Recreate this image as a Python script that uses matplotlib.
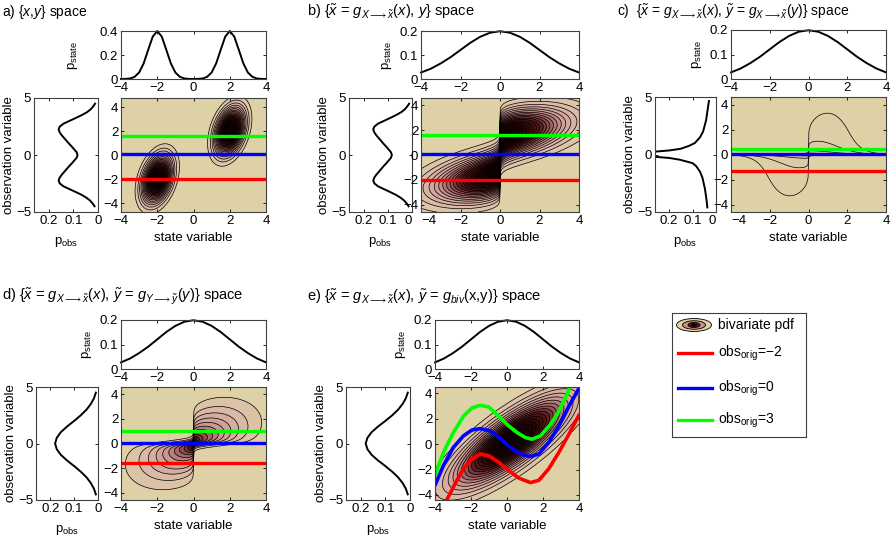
import numpy as np
import matplotlib
matplotlib.use('Agg')
import matplotlib.pyplot as plt
from matplotlib.colors import LinearSegmentedColormap
from matplotlib.patches import Ellipse
from math import erf

plt.rcParams['font.family'] = ['Liberation Sans', 'DejaVu Sans']
plt.rcParams['mathtext.fontset'] = 'custom'
plt.rcParams['mathtext.rm'] = 'Liberation Sans'
plt.rcParams['mathtext.it'] = 'Liberation Sans:italic'
plt.rcParams['mathtext.bf'] = 'Liberation Sans:bold'
plt.rcParams['font.size'] = 9.5

# ---- marginal of the state variable ----
# panel a: two bumps, read at -4..4 every 0.25
p_state_a = [0.000, 0.001, 0.004, 0.018, 0.054, 0.130, 0.243, 0.353, 0.400,
             0.353, 0.243, 0.130, 0.054, 0.018, 0.004, 0.001, 0.000,
             0.001, 0.004, 0.018, 0.054, 0.130, 0.243, 0.353, 0.400,
             0.353, 0.243, 0.130, 0.054, 0.018, 0.004, 0.001, 0.000]
# panels b-e: gaussianised state, read at -4..4 every 0.5
p_state_g = [0.027, 0.043, 0.065, 0.091, 0.121, 0.151, 0.176, 0.193, 0.199,
             0.193, 0.176, 0.151, 0.121, 0.091, 0.065, 0.043, 0.027]

# ---- marginal of the observation variable ----
# panels a and b, read at -4.5..4.5 every 0.25
p_obs_a = [0.014, 0.022, 0.032, 0.047, 0.066, 0.090, 0.115, 0.140, 0.155, 0.160,
           0.156, 0.148, 0.138, 0.128, 0.118, 0.107, 0.097, 0.087, 0.083,
           0.087, 0.097, 0.107, 0.118, 0.128, 0.138, 0.148, 0.156, 0.160,
           0.155, 0.140, 0.115, 0.090, 0.066, 0.045, 0.030, 0.020, 0.012]
# panel c (spike at 0, runs off the axes)
y_obs_c = [-4.6, -4.0, -3.0, -2.0, -1.5, -1.0, -0.75, -0.45, -0.3, -0.2, -0.12, 0.0,
           0.1, 0.18, 0.25, 0.35, 0.5, 0.75, 1.0, 1.5, 2.0, 3.0, 4.0, 4.65]
p_obs_c = [0.037, 0.040, 0.047, 0.058, 0.068, 0.085, 0.100, 0.155, 0.200, 0.260, 0.800, 2.0,
           0.800, 0.400, 0.260, 0.200, 0.150, 0.115, 0.090, 0.068, 0.055, 0.042, 0.035, 0.030]
# panels d and e, read at -4.5..4.5 every 0.5
p_obs_d = [0.009, 0.017, 0.030, 0.048, 0.072, 0.100, 0.130, 0.156, 0.173, 0.180,
           0.173, 0.156, 0.130, 0.100, 0.072, 0.048, 0.030, 0.017, 0.009]

# ---- observation values drawn as lines (lower, middle, upper) ----
obs_a = [-2.0, 0.05, 1.6]
obs_b = [-2.0, 0.05, 1.6]
obs_c = [-1.3, 0.08, 0.42]
obs_d = [-1.55, 0.08, 1.05]
# panel e: the same observations become curves
red_x = [-3.35, -2.88, -2.42, -1.95, -1.49, -1.02, -0.47, 0.09, 0.65, 1.30, 1.77, 2.32, 2.88, 3.44, 4.0]
red_y = [-4.4, -3.11, -1.94, -1.17, -0.78, -0.91, -1.42, -2.07, -2.67, -3.03, -2.85, -1.94, -0.65, 0.78, 2.3]
blue_x = [-4.0, -3.53, -2.98, -2.42, -1.95, -1.49, -0.93, -0.37, 0.19, 0.74, 1.30, 1.77, 2.32, 2.88, 3.44, 4.0]
blue_y = [-3.24, -1.68, -0.26, 0.65, 1.11, 1.22, 1.04, 0.44, -0.26, -0.78, -0.98, -0.78, 0.13, 1.42, 2.98, 4.4]
green_x = [-4.0, -3.53, -2.98, -2.42, -1.95, -1.49, -1.02, -0.56, 0.0, 0.56, 1.02, 1.39, 1.86, 2.42, 2.88, 3.35, 3.5]
green_y = [-2.46, -0.65, 0.91, 2.2, 2.85, 3.06, 2.93, 2.33, 1.55, 0.91, 0.52, 0.39, 0.65, 1.55, 2.59, 4.0, 4.5]

# ---- bivariate pdf: two correlated gaussian clusters in {x, y} ----
mix_w = [0.5, 0.5]
mix_mx = [-2.0, 2.0]
mix_my = [-2.0, 2.0]
mix_sx = 0.5
mix_sy = 1.2
mix_rho = 0.35
target_sd = 2.0
# panel e: bivariate gaussian after the joint transform
biv_mean = [0.2, 0.2]
biv_sd = [2.0, 2.2]
biv_rho = 0.8

legend_labels = ['bivariate pdf', 'obs$_{\\rm orig}$=\u22122', 'obs$_{\\rm orig}$=0', 'obs$_{\\rm orig}$=3']

tan = (0.871, 0.820, 0.651)
cm = LinearSegmentedColormap.from_list('pdf', [
    (0.0, tan), (0.12, (0.86, 0.74, 0.66)), (0.3, (0.80, 0.60, 0.58)),
    (0.45, (0.60, 0.35, 0.35)), (0.6, (0.35, 0.10, 0.10)), (0.8, (0.15, 0.02, 0.02)),
    (1.0, (0.05, 0.0, 0.0))])
cm.set_over((0.05, 0.0, 0.0))


def Phi(z):
    return 0.5 * (1 + np.vectorize(erf)(np.asarray(z, float) / np.sqrt(2)))


def npdf(z, m, s):
    return np.exp(-0.5 * ((z - m) / s) ** 2) / (s * np.sqrt(2 * np.pi))


def joint(x, y):
    out = 0
    for w, mx, my in zip(mix_w, mix_mx, mix_my):
        u = (x - mx) / mix_sx
        v = (y - my) / mix_sy
        q = (u * u - 2 * mix_rho * u * v + v * v) / (1 - mix_rho ** 2)
        out = out + w * np.exp(-0.5 * q) / (2 * np.pi * mix_sx * mix_sy * np.sqrt(1 - mix_rho ** 2))
    return out


def marg(z, means, s):
    return sum(w * npdf(z, m, s) for w, m in zip(mix_w, means))


tab = np.linspace(-8, 8, 8001)
Fx_tab = sum(w * Phi((tab - m) / mix_sx) for w, m in zip(mix_w, mix_mx))
Fy_tab = sum(w * Phi((tab - m) / mix_sy) for w, m in zip(mix_w, mix_my))


def back(t, F_tab):
    # original value that the gaussianising map sends to t
    return np.interp(Phi(t / target_sd), F_tab, tab)


W, H = 891, 542
fig = plt.figure(figsize=(W / 100, H / 100), dpi=100)


def box(l, t, r, b):
    return [l / W, 1 - b / H, (r - l) / W, (b - t) / H]


def style(ax):
    ax.tick_params(direction='in', length=2.5, width=0.6, pad=2, top=True, right=True, labelsize=9.5)
    for s in ax.spines.values():
        s.set_linewidth(0.8)
        s.set_color('0.25')


def panel(title, tpos, top_box, main_box, left_box, st_p, st_top, ob_y, ob_p, field, ylim, levels, vmax):
    fig.text(tpos[0] / W, 1 - tpos[1] / H, title, ha='left', va='center', fontsize=tpos[2])

    at = fig.add_axes(box(*top_box))
    at.plot(np.linspace(-4, 4, len(st_p)), st_p, 'k', lw=1.4, clip_on=False)
    at.set_xlim(-4, 4)
    at.set_ylim(0, st_top)
    at.set_xticks([-4, -2, 0, 2, 4])
    at.set_yticks([0, st_top / 2, st_top])
    at.set_yticklabels(['0', f'{st_top / 2:g}', f'{st_top:g}'])
    at.set_ylabel(r'p$_{\rm state}$', labelpad=tpos[3])
    style(at)

    al = fig.add_axes(box(*left_box))
    al.plot(ob_p, ob_y, 'k', lw=1.4)
    al.set_xlim(0.26, 0)
    al.set_ylim(-5, 5)
    al.set_xticks([0.2, 0.1, 0])
    al.set_xticklabels(['0.2', '0.1', '0'])
    al.set_yticks([-5, 0, 5])
    al.set_xlabel(r'p$_{\rm obs}$', labelpad=6)
    al.set_ylabel('observation variable', labelpad=1)
    style(al)

    am = fig.add_axes(box(*main_box))
    am.set_facecolor(tan)
    xg, yg, Z = field
    am.contourf(xg, yg, Z, levels=levels, cmap=cm, vmin=0, vmax=vmax, extend='max')
    am.contour(xg, yg, Z, levels=levels, colors='k', linewidths=0.5)
    am.set_xlim(-4, 4)
    am.set_ylim(*ylim)
    am.set_xticks([-4, -2, 0, 2, 4])
    am.set_yticks([-4, -2, 0, 2, 4])
    am.set_xlabel('state variable', labelpad=4)
    style(am)
    return am, al


def lin_levels(top, n):
    return np.linspace(0, top, n + 1)[1:]


n = 401
xg = np.linspace(-4, 4, n)
x_back = back(xg, Fx_tab)
gx = npdf(xg, 0, target_sd)

# a) {x, y}
ya = np.linspace(-4.75, 4.75, n)
Za = joint(xg[None, :], ya[:, None])
# b) {x~, y}
yb = np.linspace(-4.6, 4.6, n)
Zb = joint(x_back[None, :], yb[:, None]) / marg(x_back, mix_mx, mix_sx)[None, :] * gx[None, :]
# c) {x~, y~ = g_X(y)}
yc = np.linspace(-4.6, 4.6, n)
yc_back = back(yc, Fx_tab)
Zc = (joint(x_back[None, :], yc_back[:, None])
      / (marg(x_back, mix_mx, mix_sx)[None, :] * marg(yc_back, mix_mx, mix_sx)[:, None])
      * gx[None, :] * npdf(yc, 0, target_sd)[:, None])
# d) {x~, y~ = g_Y(y)}
yd = np.linspace(-4.6, 4.6, n)
yd_back = back(yd, Fy_tab)
Zd = (joint(x_back[None, :], yd_back[:, None])
      / (marg(x_back, mix_mx, mix_sx)[None, :] * marg(yd_back, mix_my, mix_sy)[:, None])
      * gx[None, :] * npdf(yd, 0, target_sd)[:, None])
# e) {x~, y~ = g_biv(x, y)}
ye = np.linspace(-4.6, 4.6, n)
u = (xg[None, :] - biv_mean[0]) / biv_sd[0]
v = (ye[:, None] - biv_mean[1]) / biv_sd[1]
Ze = np.exp(-0.5 * (u * u - 2 * biv_rho * u * v + v * v) / (1 - biv_rho ** 2))

y_a = np.linspace(-4.5, 4.5, len(p_obs_a))
y_d = np.linspace(-4.5, 4.5, len(p_obs_d))
levels_c = np.array([0.0145, 0.03, 0.07, 0.15, 0.4, 1.0, 3.0])
top_d = 1.1 * Zd[n // 2, n // 2]

sub = r'_{X\longrightarrow\tilde{x}}'
t_a = r'a) {$x$,$y$} space'
t_b = r'b) {$\tilde{x}$ = $g' + sub + r'$($x$), $y$} space'
t_c = r'c)  {$\tilde{x}$ = $g' + sub + r'$($x$), $\tilde{y}$ = $g' + sub + r'$($y$)} space'
t_d = r'd) {$\tilde{x}$ = $g' + sub + r'$($x$), $\tilde{y}$ = $g_{Y\longrightarrow\tilde{y}}$($y$)} space'
t_e = r'e) {$\tilde{x}$ = $g' + sub + r'$($x$), $\tilde{y}$ = $g_{biv}$(x,y)} space'

am_a, al_a = panel(t_a, (2, 12, 10, 14), (121, 31, 266, 79), (121, 98, 266, 212), (34, 98, 98, 212),
                   p_state_a, 0.4, y_a, p_obs_a, (xg, ya, Za), (-4.75, 4.75), lin_levels(Za.max(), 20), Za.max())
am_b, al_b = panel(t_b, (307, 12, 10.5, 4), (421, 31, 579, 79), (421, 98, 579, 212), (349, 98, 412, 212),
                   p_state_g, 0.2, y_a, p_obs_a, (xg, yb, Zb), (-4.6, 4.6), lin_levels(Zb.max(), 20), Zb.max())
am_c, al_c = panel(t_c, (617, 12, 10, 4), (731, 30, 886, 79), (731, 97, 886, 212), (655, 97, 716, 212),
                   p_state_g, 0.2, y_obs_c, p_obs_c, (xg, yc, Zc), (-4.6, 4.6), levels_c, 1.2)
am_d, al_d = panel(t_d, (2, 297, 10.5, 4), (121, 320, 266, 369), (121, 387, 266, 500), (36, 387, 98, 500),
                   p_state_g, 0.2, y_d, p_obs_d, (xg, yd, Zd), (-4.6, 4.6), lin_levels(top_d, 18), top_d)
am_e, al_e = panel(t_e, (307, 297, 10.5, 4), (435, 320, 579, 369), (435, 387, 579, 500), (346, 387, 410, 500),
                   p_state_g, 0.2, y_d, p_obs_d, (xg, ye, Ze), (-4.4, 4.5), lin_levels(Ze.max(), 18), Ze.max())

# in b) and c) the crowded corner labels sit apart, as in the original
for am, al in [(am_b, al_b), (am_c, al_c)]:
    am.get_xticklabels()[0].set_ha('left')
    al.get_xticklabels()[-1].set_ha('right')

line_cols = ['#ff0000', '#0000ff', '#00ff00']
for am, obs in [(am_a, obs_a), (am_b, obs_b), (am_c, obs_c), (am_d, obs_d)]:
    for val, c in zip(obs, line_cols):
        am.axhline(val, color=c, lw=2.4)
for cx, cy, c in [(red_x, red_y, line_cols[0]), (blue_x, blue_y, line_cols[1]), (green_x, green_y, line_cols[2])]:
    am_e.plot(cx, cy, color=c, lw=2.6, solid_capstyle='round')

# legend box
lg = fig.add_axes(box(672, 313, 806, 437))
lg.set_xlim(0, 134)
lg.set_ylim(124, 0)
lg.set_xticks([])
lg.set_yticks([])
for s in lg.spines.values():
    s.set_linewidth(0.8)
    s.set_color('0.25')
for (ew, eh), fc in zip([(35, 13), (23, 8.5), (12, 5), (5, 2.5)],
                        [tan, (0.80, 0.55, 0.55), (0.40, 0.08, 0.08), (0.05, 0, 0)]):
    lg.add_patch(Ellipse((22, 12), ew, eh, fc=fc, ec='k', lw=0.6))
lg.text(46, 12, legend_labels[0], va='center', fontsize=10)
for yy, c, lab in zip([40, 75, 107], line_cols, legend_labels[1:]):
    lg.plot([6, 40], [yy, yy], color=c, lw=2.4)
    lg.text(46, yy + 4, lab, va='baseline', fontsize=10)

fig.savefig('out.png', dpi=100)
